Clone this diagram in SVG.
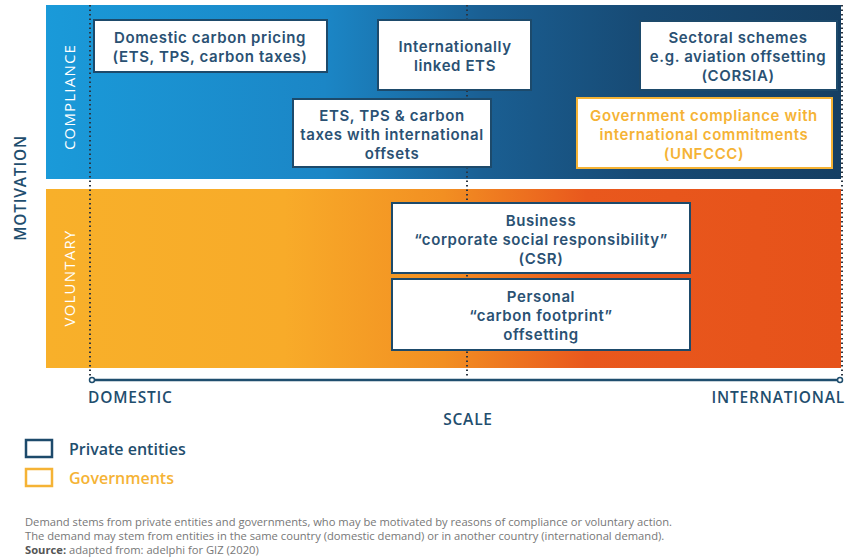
<svg xmlns="http://www.w3.org/2000/svg" width="846" height="559" viewBox="0 0 846 559">
<defs>
<linearGradient id="gBlue" x1="0" y1="0" x2="1" y2="0">
<stop offset="0" stop-color="#1a9ad9"/>
<stop offset="0.35" stop-color="#1b86c6"/>
<stop offset="0.55" stop-color="#1a5f93"/>
<stop offset="0.75" stop-color="#174a74"/>
<stop offset="1" stop-color="#153f63"/>
</linearGradient>
<linearGradient id="gOrange" x1="0" y1="0" x2="1" y2="0">
<stop offset="0" stop-color="#f8b02a"/>
<stop offset="0.3" stop-color="#f8ab29"/>
<stop offset="0.5" stop-color="#f28f22"/>
<stop offset="0.68" stop-color="#e9581d"/>
<stop offset="1" stop-color="#e6521a"/>
</linearGradient>
<style>
.box{fill:#ffffff;stroke:#1d4a6b;stroke-width:2}
.gbox{fill:#ffffff;stroke:#f5b335;stroke-width:2}
.t{font-family:Inter,"Open Sans","Liberation Sans",sans-serif;font-weight:600;font-size:15px;fill:#2a5173;text-anchor:middle;letter-spacing:0.6px}
.tg{fill:#f5b335}
.band{font-family:"Open Sans","Liberation Sans",sans-serif;font-size:15px;fill:#ffffff;text-anchor:middle;letter-spacing:1.2px}
.ax{font-family:"Open Sans","Liberation Sans",sans-serif;font-weight:600;font-size:15.5px;fill:#1f4e6e;letter-spacing:0.8px}
.lg{font-family:"Open Sans","Liberation Sans",sans-serif;font-weight:600;font-size:16px;fill:#1f4e6e}
.dot{stroke:#2b3440;stroke-width:2;stroke-dasharray:1.5 3;fill:none}
.foot{font-family:"Open Sans","Liberation Sans",sans-serif;font-size:11.2px;fill:#777777}
</style>
</defs>
<g id="bands">
<rect x="46" y="5" width="795" height="174" fill="url(#gBlue)"/>
<rect x="46" y="189" width="795" height="179" fill="url(#gOrange)"/>
<text class="band" transform="translate(75 97) rotate(-90)">COMPLIANCE</text>
<text class="band" transform="translate(75 278) rotate(-90)">VOLUNTARY</text>
</g>
<g id="guides">
<line class="dot" x1="90" y1="5" x2="90" y2="378"/>
<line class="dot" x1="467" y1="5" x2="467" y2="378"/>
<line class="dot" x1="842" y1="5" x2="842" y2="378"/>
</g>
<g id="axis">
<line x1="94" y1="380" x2="838" y2="380" stroke="#1f4e6e" stroke-width="2.5"/>
<circle cx="92" cy="380" r="2.5" fill="#ffffff" stroke="#1f4e6e" stroke-width="1.5"/>
<circle cx="840" cy="380" r="2.5" fill="#ffffff" stroke="#1f4e6e" stroke-width="1.5"/>
<text class="ax" x="88" y="403">DOMESTIC</text>
<text class="ax" x="845" y="403" text-anchor="end">INTERNATIONAL</text>
<text class="ax" x="468" y="425" text-anchor="middle">SCALE</text>
<text class="ax" transform="translate(26 188) rotate(-90)" text-anchor="middle">MOTIVATION</text>
</g>
<g id="n1">
<rect class="box" x="94" y="20" width="233" height="52"/>
<text class="t" x="210" y="43">Domestic carbon pricing</text>
<text class="t" x="210" y="62">(ETS, TPS, carbon taxes)</text>
</g>
<g id="n2">
<rect class="box" x="378" y="20" width="153" height="70"/>
<text class="t" x="455" y="52">Internationally</text>
<text class="t" x="455" y="71">linked ETS</text>
</g>
<g id="n3">
<rect class="box" x="293" y="99" width="198" height="68"/>
<text class="t" x="392" y="121">ETS, TPS &amp; carbon</text>
<text class="t" x="392" y="140">taxes with international</text>
<text class="t" x="392" y="159">offsets</text>
</g>
<g id="n4">
<rect class="box" x="640" y="21" width="197" height="69"/>
<text class="t" x="738" y="43">Sectoral schemes</text>
<text class="t" x="738" y="62">e.g. aviation offsetting</text>
<text class="t" x="738" y="81">(CORSIA)</text>
</g>
<g id="n5">
<rect class="gbox" x="577" y="98" width="255" height="70"/>
<text class="t tg" x="704" y="121">Government compliance with</text>
<text class="t tg" x="704" y="140">international commitments</text>
<text class="t tg" x="704" y="159">(UNFCCC)</text>
</g>
<g id="n6">
<rect class="box" x="392" y="203" width="298" height="70"/>
<text class="t" x="541" y="226">Business</text>
<text class="t" x="541" y="245">“corporate social responsibility”</text>
<text class="t" x="541" y="264">(CSR)</text>
</g>
<g id="n7">
<rect class="box" x="392" y="279" width="298" height="71"/>
<text class="t" x="541" y="302">Personal</text>
<text class="t" x="541" y="321">“carbon footprint”</text>
<text class="t" x="541" y="340">offsetting</text>
</g>
<g id="legend">
<rect x="26" y="440" width="26" height="17" fill="none" stroke="#1d4a6b" stroke-width="2.5"/>
<text class="lg" x="69" y="455">Private entities</text>
<rect x="26" y="469" width="26" height="17" fill="none" stroke="#f5b335" stroke-width="2.5"/>
<text class="lg" x="69" y="484" style="fill:#f5b335">Governments</text>
</g>
<g id="footer">
<text class="foot" x="25" y="526">Demand stems from private entities and governments, who may be motivated by reasons of compliance or voluntary action.</text>
<text class="foot" x="25" y="540">The demand may stem from entities in the same country (domestic demand) or in another country (international demand).</text>
<text class="foot" x="25" y="554"><tspan font-weight="700" fill="#555">Source:</tspan> adapted from: adelphi for GIZ (2020)</text>
</g>
</svg>
